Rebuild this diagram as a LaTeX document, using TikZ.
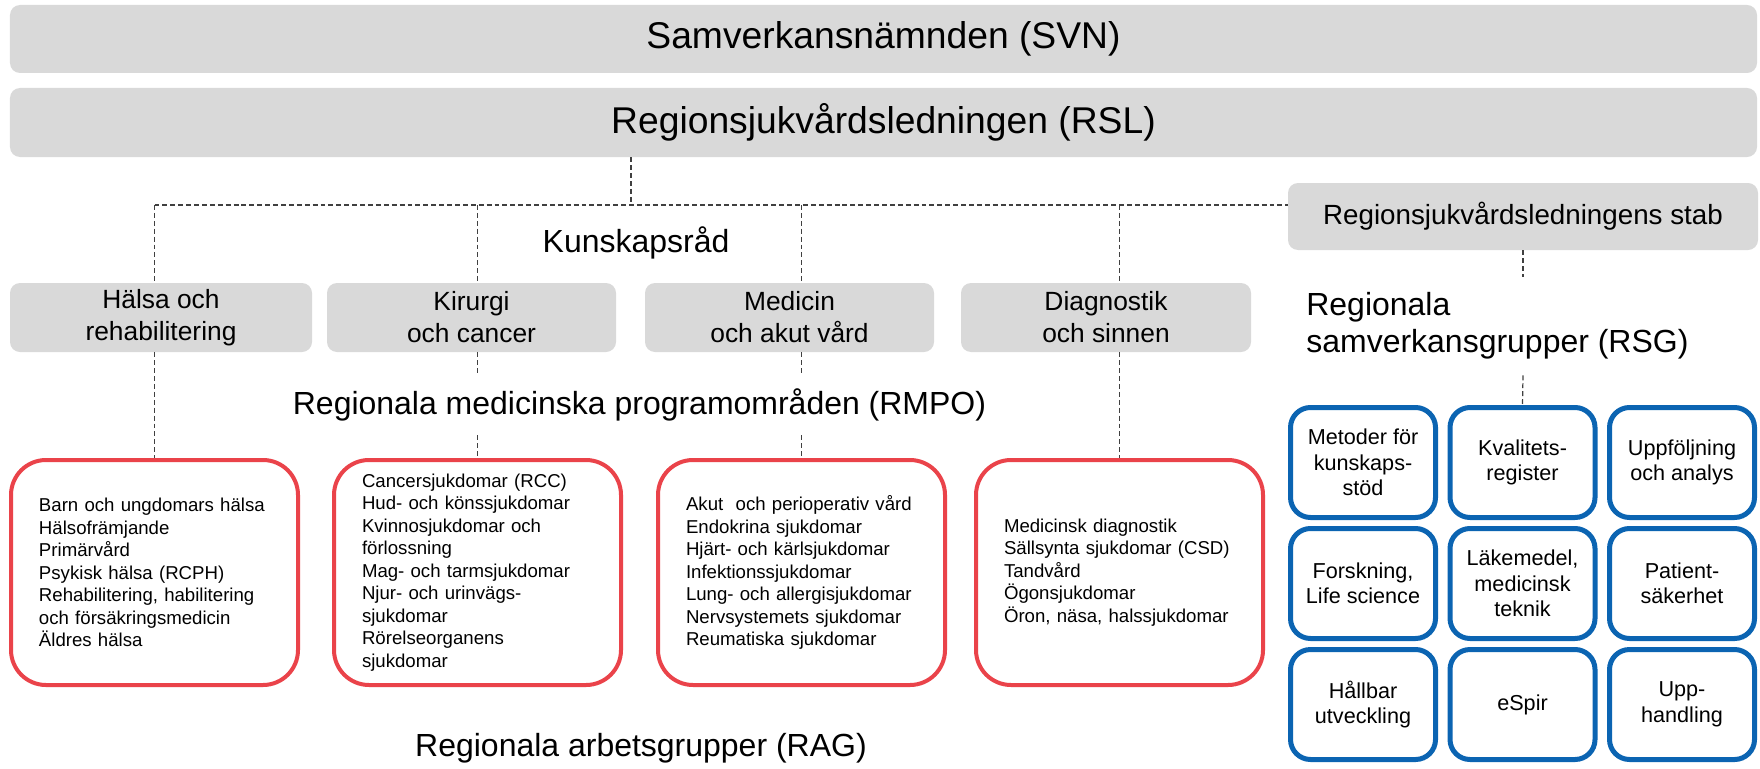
\documentclass[tikz,border=0pt]{standalone}
\usepackage{fontspec}
\setmainfont{Liberation Sans}
\usetikzlibrary{calc}
\definecolor{BoxGrey}{HTML}{D9D9D9}
\definecolor{LineRed}{HTML}{EA434A}
\definecolor{LineBlue}{HTML}{0B64B2}
\definecolor{DashGrey}{HTML}{404040}

\begin{document}
\begin{tikzpicture}[
  greybox/.style={fill=BoxGrey, rounded corners=0.2cm, inner sep=0pt, align=center},
  redbox/.style={draw=LineRed, line width=0.08cm, rounded corners=0.7cm,
    minimum height=4.5cm, inner xsep=0.56cm, text width=4.62cm, align=left,
    font=\fontsize{10.6}{12.8}\selectfont},
  bluebox/.style={draw=LineBlue, line width=0.1cm, rounded corners=0.4cm,
    minimum width=2.9cm, minimum height=2.2cm, inner sep=0pt, align=center,
    font=\fontsize{12.3}{14.5}\selectfont},
  label/.style={font=\fontsize{18.2}{21}\selectfont, inner sep=0pt},
  link/.style={draw=DashGrey, line width=0.7pt, dash pattern=on 2.8pt off 1.7pt}
  ]
  \useasboundingbox (0,0) rectangle (35.2,-15.36);

  \coordinate (hub) at (12.62,-4.10);

  \node[greybox, minimum width=34.94cm, minimum height=1.36cm,
    font=\fontsize{21.2}{25}\selectfont] (svn) at (17.67,-0.78) {Samverkansnämnden (SVN)};
  \node[greybox, minimum width=34.94cm, minimum height=1.38cm,
    font=\fontsize{21.2}{25}\selectfont] (rsl) at (17.67,-2.45) {Regionsjukvårdsledningen (RSL)};
  \node[greybox, minimum width=9.4cm, minimum height=1.34cm,
    font=\fontsize{15.8}{19}\selectfont] (stab) at (30.46,-4.33) {Regionsjukvårdsledningens stab};

  % kunskapsråd
  \foreach \x/\w/\txt [count=\i] in {3.22/6.04/{Hälsa och\\rehabilitering},
      9.43/5.78/{Kirurgi\\och cancer}, 15.79/5.78/{Medicin\\och akut vård},
      22.12/5.8/{Diagnostik\\och sinnen}}{%
    \node[greybox, minimum width=\w cm, minimum height=1.38cm,
      font=\fontsize{15}{18.2}\selectfont] (gbox\i) at (\x,-6.35) {\txt};
  }

  \node[label] (kunskap) at (12.72,-4.86) {Kunskapsråd};
  \node[label, minimum height=1.2cm] (rmpo) at (12.79,-8.1) {Regionala medicinska programområden (RMPO)};
  \node[label] (rag) at (12.82,-14.96) {Regionala arbetsgrupper (RAG)};
  \node[label, align=left, anchor=west, minimum height=1.96cm] (rsg) at (26.12,-6.52)
    {Regionala\\samverkansgrupper (RSG)};

  % RMPO
  \node[redbox] (rbox1) at (3.09,-11.45) {Barn och ungdomars hälsa\\Hälsofrämjande\\Primärvård\\
    Psykisk hälsa (RCPH)\\Rehabilitering, habilitering\\och försäkringsmedicin\\Äldres hälsa};
  \node[redbox] (rbox2) at (9.55,-11.45) {Cancersjukdomar (RCC)\\Hud- och könssjukdomar\\
    Kvinnosjukdomar och\\förlossning\\Mag- och tarmsjukdomar\\Njur- och urinvägs-\\sjukdomar\\
    Rörelseorganens\\sjukdomar};
  \node[redbox] (rbox3) at (16.03,-11.45) {Akut\ \ och perioperativ vård\\Endokrina sjukdomar\\
    Hjärt- och kärlsjukdomar\\Infektionssjukdomar\\Lung- och allergisjukdomar\\
    Nervsystemets sjukdomar\\Reumatiska sjukdomar};
  \node[redbox] (rbox4) at (22.39,-11.45) {Medicinsk diagnostik\\Sällsynta sjukdomar (CSD)\\
    Tandvård\\Ögonsjukdomar\\Öron, näsa, halssjukdomar};

  % RSG
  \foreach \txt [count=\n from 0] in {{Metoder för\\kunskaps-\\stöd}, {Kvalitets-\\register},
      {Uppföljning\\och analys}, {Forskning,\\Life science}, {Läkemedel,\\medicinsk\\teknik},
      {Patient-\\säkerhet}, {Hållbar\\utveckling}, {eSpir}, {Upp-\\handling}}{%
    \pgfmathtruncatemacro\row{div(\n,3)}
    \pgfmathtruncatemacro\col{mod(\n,3)}
    \node[bluebox] (grp\n) at ({27.26+3.19*\col},{-9.25-2.42*\row}) {\txt};
  }

  \draw[link] (hub |- rsl.south) -- (hub);
  \draw[link] (rbox1.north |- hub) -- (stab.west |- hub);
  \foreach \i in {1,...,4}{%
    \draw[link] (rbox\i.north |- hub) -- (rbox\i.north |- gbox\i.north);
  }
  \foreach \i in {1,4}{%
    \draw[link] (rbox\i.north |- gbox\i.south) -- (rbox\i.north);
  }
  \foreach \i in {2,3}{%
    \draw[link] (rbox\i.north |- gbox\i.south) -- (rbox\i.north |- rmpo.north);
    \draw[link] (rbox\i.north |- rmpo.south) -- (rbox\i.north);
  }
  \draw[link] (stab.south) -- (stab.south |- rsg.north);
  \draw[link] (stab.south |- rsg.south) -- (grp1.north);
\end{tikzpicture}
\end{document}
